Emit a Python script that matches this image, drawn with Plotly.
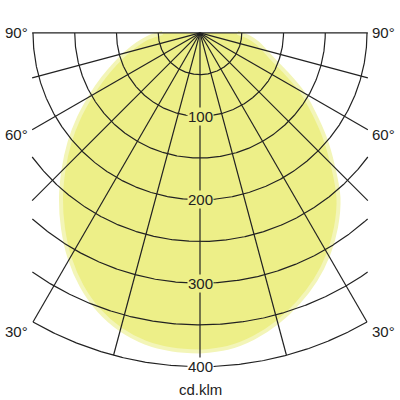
import numpy as np
import plotly.graph_objects as go

# luminous intensity (cd/klm) per gamma angle, left and right half
angles = [0, 5, 10, 15, 20, 25, 30, 35, 40, 45, 50, 55, 60, 65, 70, 75, 80, 85, 90]
left_cd = [382, 381, 377, 368, 354, 335, 312, 286, 259, 231, 204, 177, 151, 128, 108, 91, 76, 62, 45]
right_cd = [382, 379, 371, 359, 344, 327, 307, 284, 258, 225, 195, 166, 141, 114, 93, 80, 70, 59, 45]

# grid
ring_radii = [50, 100, 150, 200, 250, 300, 350, 400]
ray_angles = [-90, -75, -60, -45, -30, -15, 0, 15, 30, 45, 60, 75, 90]
radial_labels = [100, 200, 300, 400]
angle_labels = ["90°", "60°", "30°"]
angle_label_pos = [90, 60, 30]
unit_label = "cd.klm"

FILL = "#EDEF88"
EDGE = "#F3F5B8"
GRID = "#222222"
XLIM = 201  # grid is clipped at this half width

fig = go.Figure()

# light distribution curve, left side from 90 down to 0, then right side 0 to 90
t_left = np.radians(angles[::-1])
t_right = np.radians(angles)
r_left = np.array(left_cd[::-1])
r_right = np.array(right_cd)
xs = np.concatenate([-r_left * np.sin(t_left), r_right * np.sin(t_right)])
ys = np.concatenate([-r_left * np.cos(t_left), -r_right * np.cos(t_right)])
fig.add_trace(go.Scatter(x=xs, y=ys, fill="toself", fillcolor=FILL,
                         mode="lines", line=dict(color=EDGE, width=4, shape="spline"),
                         hoverinfo="skip", showlegend=False))

# rings, clipped to the box
for r in ring_radii:
    phi = np.radians(np.linspace(-90, 90, 721))
    x = r * np.sin(phi)
    y = -r * np.cos(phi)
    keep = np.abs(x) <= XLIM
    fig.add_trace(go.Scatter(x=x[keep], y=y[keep], mode="lines",
                             line=dict(color=GRID, width=1.2),
                             hoverinfo="skip", showlegend=False))

# rays
for a in ray_angles:
    phi = np.radians(a)
    length = 400
    if abs(np.sin(phi)) > 1e-9:
        length = min(400, XLIM / abs(np.sin(phi)))
    fig.add_trace(go.Scatter(x=[0, length * np.sin(phi)], y=[0, -length * np.cos(phi)],
                             mode="lines", line=dict(color=GRID, width=1.2),
                             hoverinfo="skip", showlegend=False))

font = dict(family="Liberation Sans, Arial, sans-serif", size=15, color="#222222")

# radial value labels on the vertical axis
for v in radial_labels:
    fig.add_annotation(x=0, y=-v, text=str(v), showarrow=False, font=font,
                       bgcolor=FILL if v < 400 else "white", borderpad=0)

# angle labels on both sides
ypix = {90: 0, 60: -122, 30: -358}
for txt, a in zip(angle_labels, angle_label_pos):
    for side in (-1, 1):
        fig.add_annotation(x=side * 220, y=ypix[a], text=txt, showarrow=False, font=font)

fig.add_annotation(x=0, y=-427, text=unit_label, showarrow=False, font=font)

fig.update_xaxes(range=[-239.5, 239.5], visible=False)
fig.update_yaxes(range=[-440, 39.5], visible=False)
fig.update_layout(width=400, height=400, margin=dict(l=0, r=0, t=0, b=0),
                  plot_bgcolor="white", paper_bgcolor="white")

# drop the default page margin so the 400x400 figure fills the window
fig.write_html("out.html", config={"displayModeBar": False},
               post_script="document.body.style.margin='0';")
